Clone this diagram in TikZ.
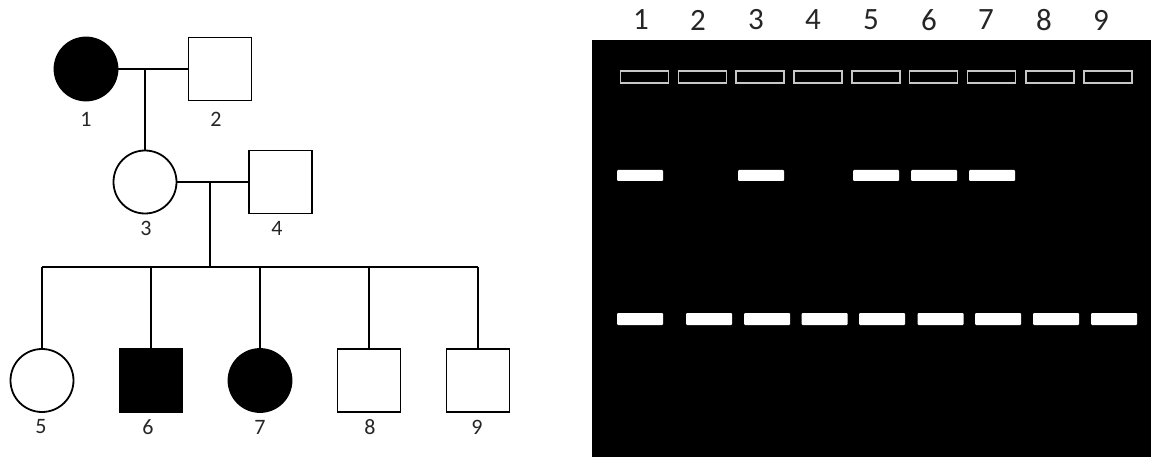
\documentclass[tikz,border=0pt]{standalone}
\usepackage{fontspec}
\setmainfont{Carlito}
\begin{document}
\begin{tikzpicture}[x=1pt,y=-1pt,
  ped/.style={line width=1.8pt},
  fem/.style={circle,draw,line width=1.8pt,minimum size=63pt,inner sep=0pt},
  mal/.style={rectangle,draw,line width=1.8pt,minimum size=63pt,inner sep=0pt},
  aff/.style={fill=black},
  plab/.style={font=\fontsize{22}{24}\selectfont,text=black!85,inner sep=0pt},
  glab/.style={font=\fontsize{31}{34}\selectfont,text=black!85,inner sep=0pt},
  well/.style={rectangle,draw=black!22,line width=1.3pt,minimum width=48pt,minimum height=12pt,inner sep=0pt},
  band/.style={rectangle,fill=white,rounded corners=1pt,minimum width=46pt,minimum height=11pt,inner sep=0pt}
]
\useasboundingbox (0,0) rectangle (1151,457);
\fill[white] (0,0) rectangle (1151,457);
% ---------- pedigree ----------
\node[fem,aff] (i1) at (86,69) {};
\node[mal] (i2) at (220,69) {};
\node[fem] (i3) at (145,182) {};
\node[mal] (i4) at (280.5,182) {};
\node[fem] (i5) at (42,380.5) {};
\node[mal,aff] (i6) at (151,380.5) {};
\node[fem,aff] (i7) at (260,380.5) {};
\node[mal] (i8) at (369,380.5) {};
\node[mal] (i9) at (478,380.5) {};
\node[plab] (t1) at (86,119) {1};
\node[plab] (t2) at (216,119) {2};
\node[plab] (t3) at (146,228) {3};
\node[plab] (t4) at (277,228) {4};
\node[plab] (t5) at (41,427) {5};
\node[plab] (t6) at (148,427) {6};
\node[plab] (t7) at (260,427) {7};
\node[plab] (t8) at (370,427) {8};
\node[plab] (t9) at (477,427) {9};
\draw[ped] (i1.east) -- (i2.west);
\coordinate (m12) at (145,69);
\draw[ped] (m12) -- (i3.north);
\draw[ped] (i3.east) -- (i4.west);
\coordinate (m34) at (210,182);
\coordinate (sib) at (210,267);
\draw[ped] (m34) -- (sib);
\coordinate (s5) at (42,267);
\coordinate (s9) at (478,267);
\draw[ped] (s5) -- (s9);
\draw[ped] (s5) -- (i5.north);
\draw[ped] (i6.north |- sib) -- (i6.north);
\draw[ped] (i7.north |- sib) -- (i7.north);
\draw[ped] (i8.north |- sib) -- (i8.north);
\draw[ped] (s9) -- (i9.north);
% ---------- gel ----------
\fill[black] (592,40) rectangle (1151,457);
\foreach \i/\x in {1/644.5,2/702.5,3/760,4/818,5/876,6/933.5,7/991.5,8/1050,9/1108}{
  \node[well] (w\i) at (\x,77) {};
}
\foreach \i/\x in {1/641,2/698,3/756,4/813,5/871,6/929,7/986,8/1044,9/1101}{
  \node[glab] (g\i) at (\x,20) {\i};
}
\foreach \i/\x in {1/640,3/761,5/876,6/934,7/992}{
  \node[band] (u\i) at (\x,175.5) {};
}
\foreach \i/\x in {1/640,2/709,3/767,4/824.5,5/882,6/940.5,7/998,8/1056,9/1114}{
  \node[band,minimum height=12pt] (l\i) at (\x,319) {};
}
\end{tikzpicture}
\end{document}
